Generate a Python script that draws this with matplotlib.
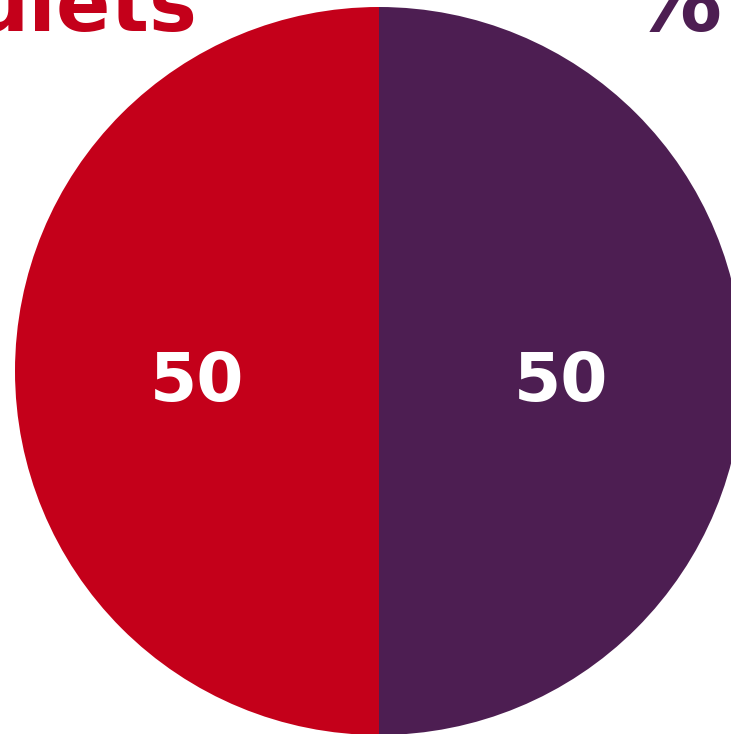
import matplotlib.pyplot as plt
import numpy as np

labels = ['uiets', '%']
values = [50, 50]
colors = ['#C4001A', '#4D1E52']

fig = plt.figure(figsize=(7.31, 7.34), dpi=100)
ax = fig.add_axes([0, 0, 1, 1])

wedges, texts = ax.pie(values, colors=colors, startangle=90, radius=364,
                       center=(379, 363), frame=True,
                       wedgeprops=dict(linewidth=0))
ax.set_xlim(0, 731)
ax.set_ylim(0, 734)
ax.set_aspect('equal')
ax.axis('off')

# value labels in the middle of each half
for w, v in zip(wedges, values):
    ang = np.deg2rad((w.theta1 + w.theta2) / 2)
    x = 379 + 0.5 * 364 * np.cos(ang)
    y = 363 + 0.5 * 364 * np.sin(ang) - 11
    ax.text(x, y, f'{v}', color='white', fontsize=49, fontweight='bold',
            ha='center', va='center')

# headings, cut by the top edge
ax.text(198, 703, labels[0], color=colors[0], fontsize=58, fontweight='bold',
        ha='right', va='baseline')
ax.text(722, 703, labels[1], color=colors[1], fontsize=67, fontweight='bold',
        ha='right', va='baseline')

fig.savefig('out.png', dpi=100)
